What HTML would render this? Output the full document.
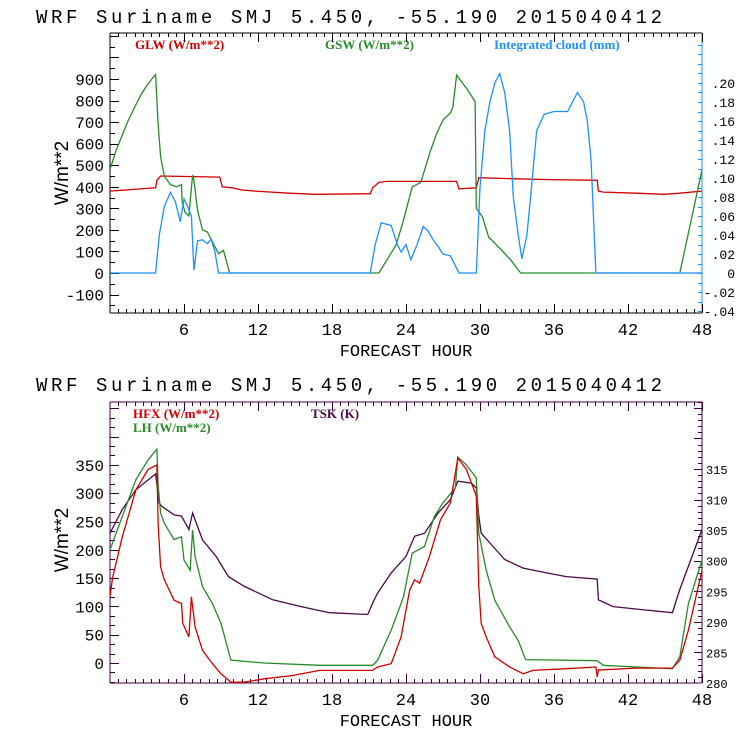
<!DOCTYPE html>
<html><head><meta charset="utf-8">
<style>
html,body{margin:0;padding:0;background:#fff;width:740px;height:740px;overflow:hidden}
svg{display:block}
.mono{font-family:"Liberation Mono","DejaVu Sans Mono",monospace}
.leg{font-family:"Liberation Serif",serif;font-weight:bold;font-size:13px}
</style></head>
<body>
<svg id="chart" width="740" height="740" viewBox="0 0 740 740" xmlns="http://www.w3.org/2000/svg">
<text class="mono" x="36" y="23" font-size="19" textLength="626" lengthAdjust="spacing">WRF  Suriname SMJ  5.450, -55.190  2015040412</text>
<text class="mono" x="36" y="391" font-size="19" textLength="626" lengthAdjust="spacing">WRF  Suriname SMJ  5.450, -55.190  2015040412</text>
<text class="leg" x="135" y="49" fill="#d00000">GLW (W/m**2)</text>
<text class="leg" x="325" y="49" fill="#2a8a2a">GSW (W/m**2)</text>
<text class="leg" x="494" y="49" fill="#1e90ff">Integrated cloud (mm)</text>
<text class="leg" x="133" y="418" fill="#d00000">HFX (W/m**2)</text>
<text class="leg" x="133" y="432" fill="#2a8a2a">LH  (W/m**2)</text>
<text class="leg" x="311" y="418" fill="#4b0a4b">TSK (K)</text>
<text font-family="Liberation Sans, sans-serif" font-size="19" transform="translate(68,173) rotate(-90)" text-anchor="middle">W/m**2</text>
<text font-family="Liberation Sans, sans-serif" font-size="19" transform="translate(68,540) rotate(-90)" text-anchor="middle">W/m**2</text>
<text class="mono" x="406" y="356" font-size="17" text-anchor="middle">FORECAST HOUR</text>
<text class="mono" x="406" y="726" font-size="17" text-anchor="middle">FORECAST HOUR</text>
</svg>
<script>
// ---- data ----
const xTicks = [6,12,18,24,30,36,42,48];
const topLeftTicks = [-100,0,100,200,300,400,500,600,700,800,900];
const topRightTicks = [-0.04,-0.02,0,0.02,0.04,0.06,0.08,0.10,0.12,0.14,0.16,0.18,0.20];
const topRightLabels = ['-.04','-.02','0','.02','.04','.06','.08','.10','.12','.14','.16','.18','.20'];
const botLeftTicks = [0,50,100,150,200,250,300,350];
const botRightTicks = [280,285,290,295,300,305,310,315];

const glwHours = [0,3.7,3.8,4.1,8.9,9.1,9.9,10.7,11.8,14.5,16.6,21.1,21.3,21.8,22.4,28.1,28.3,29.7,29.9,32.9,35.7,39.5,39.6,40,42.7,44.9,46.2,48];
const glwVals  = [380,395,430,450,445,400,395,385,380,370,365,368,395,420,425,425,390,395,442,437,433,430,380,375,370,365,370,380];

const gswHours = [0,0.5,1,1.5,2,2.5,3,3.4,3.7,3.9,4.1,4.4,4.9,5.4,5.8,5.85,6.1,6.4,6.7,6.8,7.1,7.5,7.9,8.8,9.2,9.7,21.8,23.2,23.8,24.5,25.2,26,26.5,27,27.6,27.8,28.1,29,29.6,29.7,30.2,30.7,31.5,32.5,33.3,46.2,48];
const gswVals  = [480,570,640,710,770,825,870,900,920,690,540,450,410,400,410,330,280,265,455,430,290,200,190,90,105,0,0,130,245,400,420,570,648,710,742,770,918,849,795,300,260,167,121,60,0,0,478];

const cldHours = [0,3.7,4.0,4.4,4.9,5.3,5.7,6.0,6.3,6.6,6.8,7.1,7.5,7.9,8.2,8.5,8.8,21.1,21.5,22,22.8,23.3,23.6,24,24.4,24.9,25.4,25.8,26.2,26.6,27,27.6,28.3,29.7,30,30.4,30.8,31.2,31.6,32,32.4,32.7,33.1,33.4,33.8,34.1,34.6,35.2,36,36.6,37.1,37.5,37.9,38.4,38.7,39,39.4,48];
const cldVals  = [0,0,0.04,0.07,0.085,0.075,0.054,0.078,0.07,0.06,0.003,0.034,0.035,0.031,0.036,0.023,0,0,0.03,0.053,0.05,0.03,0.022,0.03,0.014,0.03,0.049,0.044,0.035,0.028,0.02,0.018,0,0,0.09,0.15,0.18,0.2,0.21,0.19,0.15,0.08,0.04,0.015,0.04,0.08,0.15,0.167,0.17,0.17,0.17,0.18,0.19,0.18,0.16,0.12,0,0];

const hfxHours = [0,0.2,1,2.1,3.1,3.8,3.9,4.1,4.4,4.8,5.2,5.8,5.9,6.4,6.6,6.9,7.5,8.3,9,9.8,10.9,12.5,14.8,17,21.3,21.7,22.8,23.6,24.3,24.7,25.1,25.9,26.8,27.6,28.2,28.9,29.7,29.9,30.1,30.5,31.2,32.4,33.5,34.3,37,39.4,39.5,39.6,40,42.7,45.6,46.2,46.9,48];
const hfxVals  = [117,150,223,306,342,350,247,170,147,129,111,105,70,46,117,64,22,-1,-19,-34,-34,-28,-22,-13,-13,-7,-1,46,129,147,141,188,253,283,362,342,295,135,70,46,11,-7,-19,-13,-10,-7,-25,-12,-12,-9,-9,5,58,164];

const lhHours = [0,1,2.1,3.1,3.8,3.9,4.1,4.4,5.2,5.8,6,6.5,6.7,6.9,7.5,8.3,9,9.8,12.5,17,21.3,21.7,22.8,23.8,24.5,25.5,26.3,27,28,28.2,28.9,29.7,29.9,30.5,31.2,32.4,33.1,33.7,39.5,40,42.7,45.6,46.2,46.9,48];
const lhVals  = [200,259,324,359,378,315,265,247,218,223,182,164,235,188,135,105,70,5,0,-4,-4,5,58,117,194,206,259,283,309,364,350,327,229,164,111,64,40,6,4,-4,-7,-10,11,105,182];

const tskHours = [0,1,2.1,3.7,4,4.2,5.2,5.8,6.4,6.7,7.5,8.6,9.6,10.9,13.2,15.5,17.8,20.9,21.3,21.7,22.8,24,24.7,25.5,26.6,27.6,28.2,29.3,29.7,29.9,30.1,30.8,32,33.5,35.4,37,39.5,39.6,40.8,43.1,45.6,46.2,48];
const tskVals  = [304.5,308.4,311.6,314.2,309.4,308.9,307.5,307.3,305.1,307.8,303.4,300.7,297.4,295.8,293.6,292.5,291.5,291.2,293.1,294.7,298,300.7,304,304.5,307.8,310,313,312.7,311.9,307.3,304.5,302.9,300.2,298.8,298,297.4,297,293.6,292.5,292,291.5,295.3,305.1];

// ---- drawing ----
const NS = 'http://www.w3.org/2000/svg';
const svg = document.getElementById('chart');
const X0 = 110, X1 = 702;
const xs = h => X0 + h * (X1 - X0) / 48;
// top panel scales
const T_TOP = 33, T_BOT = 313;
const yTL = v => 273 - v * 0.2156;
const yTR = v => 273 - v * 950;
// bottom panel scales
const B_TOP = 402, B_BOT = 683;
const yBL = v => 663 - v * 0.566;
const yBR = v => 683 - (v - 280) * 6.114;

function el(tag, attrs, parent) {
  const e = document.createElementNS(NS, tag);
  for (const k in attrs) e.setAttribute(k, attrs[k]);
  (parent || svg).appendChild(e);
  return e;
}
function line(x1, y1, x2, y2, c, g) {
  return el('line', {x1, y1, x2, y2, stroke: c, 'stroke-width': 1, 'shape-rendering': 'crispEdges'}, g);
}
function series(hours, vals, ys, color, name, clipTop, clipBot) {
  const pts = hours.map((h, i) => xs(h).toFixed(1) + ',' + Math.max(clipTop, Math.min(clipBot, ys(vals[i]))).toFixed(1)).join(' ');
  const p = el('polyline', {points: pts, fill: 'none', stroke: color, 'stroke-width': 1.3});
  
  
}
function panel(top, bot, leftColor, rightColor, name) {
  const g = el('g', {});
  
  
  line(X0, top, X1, top, leftColor, g);
  line(X0, bot, X1, bot, leftColor, g);
  line(X0, top, X0, bot, leftColor, g);
  line(X1, top, X1, bot, rightColor, g);
  // x minor ticks
  for (let h = 2/3; h < 48; h += 2/3) {
    const x = Math.round(xs(h)) + 0.5;
    line(x, top, x, top + 4, leftColor, g);
    line(x, bot, x, bot - 4, leftColor, g);
  }
  xTicks.forEach(h => {
    const x = Math.round(xs(h)) + 0.5;
    line(x, top, x, top + 9, leftColor, g);
    line(x, bot, x, bot - 9, leftColor, g);
    const t = el('text', {x: xs(h), y: bot + 22, 'font-size': 17, 'text-anchor': 'middle', class: 'mono'}, g);
    t.textContent = h;
  });
  return g;
}

// top panel
const gt = panel(T_TOP, T_BOT, '#000', '#1e90ff', 'top-panel');
for (let v = -150; v <= 1100; v += 50) {
  const y = Math.round(yTL(v)) + 0.5;
  if (y < T_TOP || y > T_BOT) continue;
  line(X0, y, X0 + (v % 100 === 0 ? 9 : 5), y, '#000', gt);
}
topLeftTicks.forEach(v => {
  const t = el('text', {x: 104, y: yTL(v) + 6, 'font-size': 16, 'text-anchor': 'end', class: 'mono'}, gt);
  t.textContent = v;
});
for (let v = -0.04; v <= 0.25; v += 0.01) {
  const y = Math.round(yTR(v)) + 0.5;
  if (y < T_TOP || y > T_BOT) continue;
  line(X1 - 4, y, X1, y, '#1e90ff', gt);
}
topRightTicks.forEach((v, i) => {
  const t = el('text', {x: 735, y: yTR(v) + 5, 'font-size': 13, 'text-anchor': 'end', class: 'mono'}, gt);
  t.textContent = topRightLabels[i];
});
series(glwHours, glwVals, yTL, '#d00000', 'glw-line', T_TOP, T_BOT);
series(gswHours, gswVals, yTL, '#2a8a2a', 'gsw-line', T_TOP, T_BOT);
series(cldHours, cldVals, yTR, '#1e90ff', 'cloud-line', T_TOP, T_BOT);

// bottom panel
const gb = panel(B_TOP, B_BOT, '#400040', '#400040', 'bottom-panel');
for (let v = -50; v <= 500; v += 50/3) {
  const y = Math.round(yBL(v)) + 0.5;
  if (y < B_TOP || y > B_BOT) continue;
  const major = Math.abs(v / 50 - Math.round(v / 50)) < 0.01;
  line(X0, y, X0 + (major ? 9 : 5), y, '#400040', gb);
}
botLeftTicks.forEach(v => {
  const t = el('text', {x: 104, y: yBL(v) + 6, 'font-size': 16, 'text-anchor': 'end', class: 'mono'}, gb);
  t.textContent = v;
});
for (let v = 280; v <= 326; v += 1) {
  const y = Math.round(yBR(v)) + 0.5;
  if (y < B_TOP || y > B_BOT) continue;
  line(X1 - (v % 5 === 0 ? 8 : 4), y, X1, y, '#400040', gb);
}
botRightTicks.forEach(v => {
  const t = el('text', {x: 706, y: yBR(v) + 5, 'font-size': 12, class: 'mono'}, gb);
  t.textContent = v;
});
series(tskHours, tskVals, yBR, '#4b0a4b', 'tsk-line', B_TOP, B_BOT);
series(lhHours, lhVals, yBL, '#2a8a2a', 'lh-line', B_TOP, B_BOT);
series(hfxHours, hfxVals, yBL, '#d00000', 'hfx-line', B_TOP, B_BOT);
</script>
</body></html>
